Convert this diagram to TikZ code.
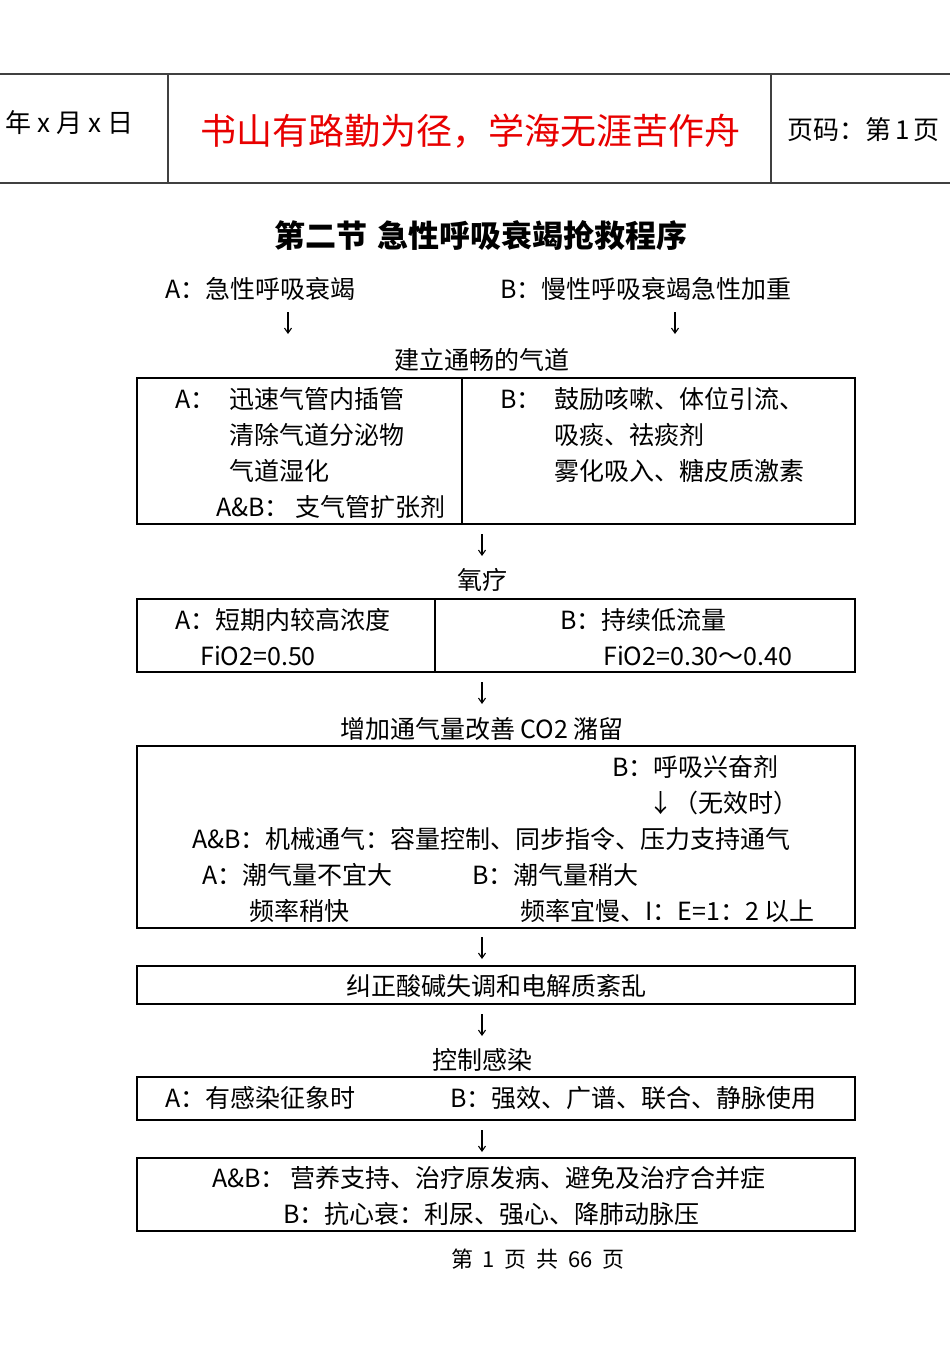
\documentclass[tikz,border=0pt]{standalone}
\usepackage{fontspec}
\setmainfont{Noto Sans CJK SC}
\usetikzlibrary{arrows.meta}
\definecolor{hdr}{RGB}{64,64,64}
\definecolor{motto}{RGB}{232,0,0}
\tikzset{
 txt/.style={inner sep=0pt, anchor=west, font=\fontsize{25}{25}\selectfont},
 ctxt/.style={inner sep=0pt, font=\fontsize{25}{25}\selectfont},
 hdrtxt/.style={inner sep=0pt, anchor=west, font=\fontsize{26}{26}\selectfont},
 boxline/.style={draw=black, line width=2pt},
 hline/.style={draw=hdr, line width=2pt},
 arr/.style={line width=1.1pt, -{Straight Barb[length=5pt,width=7pt]}}
}
\begin{document}
\begin{tikzpicture}[x=1pt,y=-1pt]
\useasboundingbox (0,0) rectangle (950,1346);
% header
\draw[hline] (0,74) -- (950,74);
\draw[hline] (0,183) -- (950,183);
\draw[hline] (168,74) -- (168,183);
\draw[hline] (771,74) -- (771,183);
\node[hdrtxt] (date) at (5,123) {年\hspace{6pt}x\hspace{6pt}月\hspace{6pt}x\hspace{6pt}日};
\node[inner sep=0pt, text=motto, font=\fontsize{36}{36}\selectfont] (motto) at (470,131) {书山有路勤为径，学海无涯苦作舟};
\node[hdrtxt] (pageno) at (787,130) {页码：第\hspace{4pt}1\hspace{4pt}页};
% title
\node[inner sep=0pt, font=\fontsize{31}{31}\selectfont\bfseries] (title) at (481,236) {第二节\hspace{10pt}急性呼吸衰竭抢救程序};
\node[txt] (ta) at (165,289) {A：急性呼吸衰竭};
\node[txt] (tb) at (500,289) {B：慢性呼吸衰竭急性加重};
\coordinate (a0s) at (288,312); \coordinate (a0e) at (288,334);
\coordinate (b0s) at (675,312); \coordinate (b0e) at (675,334);
\draw[arr] (a0s) -- (a0e);
\draw[arr] (b0s) -- (b0e);
\node[ctxt] (airway) at (482,360) {建立通畅的气道};
% box 1
\draw[boxline] (137,378) rectangle (855,524);
\draw[boxline] (462,378) -- (462,524);
\node[txt] (b1a) at (175,399) {A：};
\node[txt] (b1a1) at (229,399) {迅速气管内插管};
\node[txt] (b1a2) at (229,435) {清除气道分泌物};
\node[txt] (b1a3) at (229,471) {气道湿化};
\node[txt] (b1ab) at (216,507) {A\&B：};
\node[txt] (b1ab1) at (295,507) {支气管扩张剂};
\node[txt] (b1b) at (500,399) {B：};
\node[txt] (b1b1) at (554,399) {鼓励咳嗽、体位引流、};
\node[txt] (b1b2) at (554,435) {吸痰、祛痰剂};
\node[txt] (b1b3) at (554,471) {雾化吸入、糖皮质激素};
\coordinate (a1s) at (482,534); \coordinate (a1e) at (482,556);
\draw[arr] (a1s) -- (a1e);
\node[ctxt] (oxy) at (482,580) {氧疗};
% box 2
\draw[boxline] (137,599) rectangle (855,672);
\draw[boxline] (435,599) -- (435,672);
\node[txt] (b2a) at (175,620) {A：短期内较高浓度};
\node[txt] (b2a1) at (200,656) {FiO2=0.50};
\node[txt] (b2b) at (560,620) {B：持续低流量};
\node[txt] (b2b1) at (603,656) {FiO2=0.30～0.40};
\coordinate (a2s) at (482,682); \coordinate (a2e) at (482,704);
\draw[arr] (a2s) -- (a2e);
\node[ctxt] (vent) at (482,729) {增加通气量改善 CO2 潴留};
% box 3
\draw[boxline] (137,746) rectangle (855,928);
\node[txt] (b3s) at (612,767) {B：呼吸兴奋剂};
\node[txt] (b3s1) at (648,803) {↓（无效时）};
\node[txt] (b3m) at (192,839) {A\&B：机械通气：容量控制、同步指令、压力支持通气};
\node[txt] (b3a) at (202,875) {A：潮气量不宜大};
\node[txt] (b3b) at (472,875) {B：潮气量稍大};
\node[txt] (b3a1) at (249,911) {频率稍快};
\node[txt] (b3b1) at (520,911) {频率宜慢、I：E=1：2 以上};
\coordinate (a3s) at (482,937); \coordinate (a3e) at (482,959);
\draw[arr] (a3s) -- (a3e);
% box 4
\draw[boxline] (137,966) rectangle (855,1004);
\node[ctxt] (acid) at (496,986) {纠正酸碱失调和电解质紊乱};
\coordinate (a4s) at (482,1014); \coordinate (a4e) at (482,1036);
\draw[arr] (a4s) -- (a4e);
\node[ctxt] (infect) at (482,1060) {控制感染};
% box 5
\draw[boxline] (137,1077) rectangle (855,1120);
\node[txt] (b5a) at (165,1098) {A：有感染征象时};
\node[txt] (b5b) at (450,1098) {B：强效、广谱、联合、静脉使用};
\coordinate (a5s) at (482,1130); \coordinate (a5e) at (482,1152);
\draw[arr] (a5s) -- (a5e);
% box 6
\draw[boxline] (137,1158) rectangle (855,1231);
\node[txt] (b6ab) at (212,1178) {A\&B：};
\node[txt] (b6ab1) at (290,1178) {营养支持、治疗原发病、避免及治疗合并症};
\node[txt] (b6b) at (283,1214) {B：抗心衰：利尿、强心、降肺动脉压};
% footer
\node[inner sep=0pt, font=\fontsize{22}{22}\selectfont] (footer) at (538,1259) {第\ \ 1\ \ 页\ \ 共\ \ 66\ \ 页};
\end{tikzpicture}
\end{document}
